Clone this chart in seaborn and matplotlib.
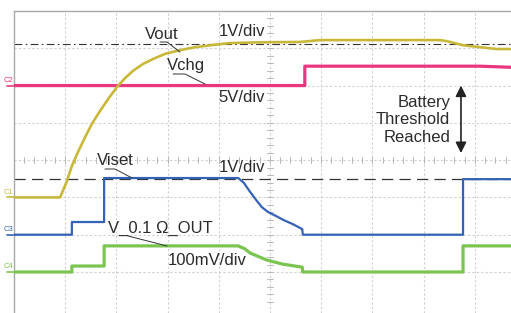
import numpy as np
import pandas as pd
import matplotlib
matplotlib.use("Agg")
import matplotlib.pyplot as plt
import seaborn as sns

# ---- data (time in divisions, level in divisions) ----
vout_t = [0.0, 0.90, 1.02, 1.13, 1.25, 1.39, 1.52, 1.68, 1.84, 2.01, 2.17, 2.32, 2.52,
          2.71, 2.95, 3.24, 3.54, 3.83, 4.22, 4.80, 5.59, 5.98, 8.32, 8.46, 8.77, 9.10, 9.43, 9.71]
vout_v = [3.0, 3.0, 3.39, 3.84, 4.22, 4.62, 4.97, 5.32, 5.64, 5.96, 6.20, 6.39, 6.58,
          6.71, 6.85, 6.95, 7.03, 7.08, 7.14, 7.16, 7.17, 7.22, 7.22, 7.19, 7.08, 7.03, 6.98, 6.98]

vchg_t = [0.0, 5.68, 5.68, 9.10, 9.71]
vchg_v = [6.0, 6.0, 6.52, 6.52, 6.49]

viset_t = [0.0, 1.13, 1.13, 1.76, 1.76, 4.38, 4.49, 4.61, 4.73, 4.84, 4.96, 5.12, 5.27,
           5.45, 5.63, 5.64, 8.77, 8.77, 9.71]
viset_v = [2.0, 2.0, 2.34, 2.34, 3.52, 3.52, 3.39, 3.15, 2.93, 2.74, 2.61, 2.50, 2.39,
           2.28, 2.15, 2.0, 2.0, 3.49, 3.49]

vout01_t = [0.0, 1.13, 1.13, 1.76, 1.76, 4.38, 4.51, 4.61, 4.80, 4.94, 5.25, 5.63, 5.64,
            8.77, 8.77, 9.71]
vout01_v = [1.0, 1.0, 1.16, 1.16, 1.70, 1.70, 1.62, 1.51, 1.40, 1.32, 1.21, 1.13, 1.0,
            1.0, 1.70, 1.70]

ref_dashdot = 7.11
ref_dashed = 3.49

channels = ["C1", "C2", "C3", "C4"]
channel_levels = [3.0, 6.0, 2.0, 1.0]

colors = {"C1": "#C8B83A", "C2": "#E8377F", "C3": "#3462B6", "C4": "#7AC450"}

# ---- figure ----
sns.set_style("white")
plt.rcParams["font.family"] = ["Liberation Sans", "DejaVu Sans"]

W, H = 511, 313
fig = plt.figure(figsize=(W / 100, H / 100), dpi=100)
ax = fig.add_axes([14 / W, 0, (W - 14) / W, (H - 11) / H])
ax.set_xlim(0, (W - 14) / 51.2)
ax.set_ylim(-0.1, 8.0)

for s in ["right", "bottom"]:
    ax.spines[s].set_visible(False)
for s in ["left", "top"]:
    ax.spines[s].set_color("#a8a8a8")
    ax.spines[s].set_linewidth(1.0)
ax.set_xticks([])
ax.set_yticks([])

grid_kw = dict(color="#cfcfcf", lw=0.8, ls=(0, (2, 2)), zorder=0)
for gx in range(1, 10):
    ax.axvline(gx, **grid_kw)
for gy in range(1, 8):
    ax.axhline(gy, **grid_kw)

# center-line ticks
for ty in np.arange(0.2, 8.0, 0.2):
    ax.plot([4.94, 5.06], [ty, ty], color="#b8b8b8", lw=0.7, zorder=0)
for tx in np.arange(0.2, 9.8, 0.2):
    ax.plot([tx, tx], [3.92, 4.08], color="#b8b8b8", lw=0.7, zorder=0)

# reference lines
ax.axhline(ref_dashdot, color="#333333", lw=0.8, ls=(0, (7, 3, 1.5, 3)), zorder=1)
ax.axhline(ref_dashed, color="#333333", lw=0.9, ls=(0, (9, 5)), zorder=1)

# traces
traces = [
    ("C2", vchg_t, vchg_v, 2.3),
    ("C1", vout_t, vout_v, 1.9),
    ("C4", vout01_t, vout01_v, 2.3),
    ("C3", viset_t, viset_v, 1.6),
]
for i, (ch, t, v, lw) in enumerate(traces):
    df = pd.DataFrame({"t": t, "v": v})
    sns.lineplot(data=df, x="t", y="v", estimator=None, sort=False, ax=ax,
                 color=colors[ch], lw=lw, zorder=3 + i)
ax.set_xlabel("")
ax.set_ylabel("")

# channel markers
for ch, lvl in zip(channels, channel_levels):
    ax.plot([-0.14, 0.0], [lvl, lvl], color=colors[ch], lw=1.2, clip_on=False)
    ax.text(-0.1, lvl + 0.14, ch, color=colors[ch], fontsize=5.5,
            ha="center", va="center", clip_on=False)

# annotations
tc = "#2b2b2b"
fs = 12
ax.text(2.56, 7.38, "Vout", fontsize=fs, color=tc, ha="left", va="center")
ax.text(4.0, 7.46, "1V/div", fontsize=fs, color=tc, ha="left", va="center")
ax.text(2.99, 6.55, "Vchg", fontsize=fs, color=tc, ha="left", va="center")
ax.text(4.0, 5.69, "5V/div", fontsize=fs, color=tc, ha="left", va="center")
ax.text(1.62, 4.0, "Viset", fontsize=fs, color=tc, ha="left", va="center")
ax.text(4.0, 3.79, "1V/div", fontsize=fs, color=tc, ha="left", va="center")
ax.text(1.84, 2.18, "V_0.1 Ω_OUT", fontsize=fs, color=tc, ha="left", va="center")
ax.text(3.01, 1.30, "100mV/div", fontsize=fs, color=tc, ha="left", va="center")
ax.text(8.52, 5.08, "Battery\nThreshold\nReached", fontsize=fs, color=tc,
        ha="right", va="center", multialignment="right", linespacing=1.22)

ax.annotate("", xy=(8.73, 6.0), xytext=(8.73, 4.19),
            arrowprops=dict(arrowstyle="<|-|>", color="#222222", lw=1.2,
                            mutation_scale=16, shrinkA=0, shrinkB=0))

# leader lines (pixel coords converted to divisions)
def px(x, y):
    return (x - 14) / 51.2, (309.3 - y) / 37.29

leaders = [
    [(160, 42), (167, 42), (180, 52)],
    [(173, 74), (185, 74), (205, 84)],
    [(105, 169), (115, 169), (132, 178)],
    [(128, 236), (167, 246)],
]
for pts in leaders:
    xs, ys = zip(*[px(*p) for p in pts])
    ax.plot(xs, ys, color="#333333", lw=0.7, zorder=6)

fig.savefig("out.png", dpi=100)
